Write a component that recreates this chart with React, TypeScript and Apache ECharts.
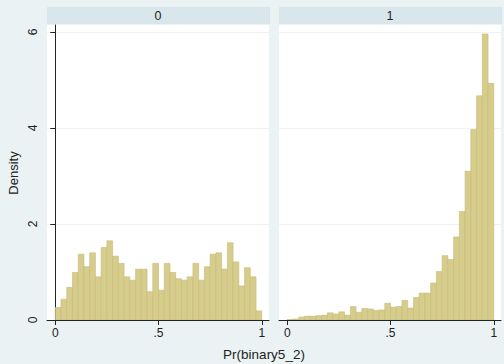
import React, { useEffect, useRef } from "react";
import * as echarts from "echarts";

const panelLabels = ["0", "1"];
const binCount = 36;
const densityPanel0 = [
  0.26, 0.43, 0.68, 0.99, 1.37, 1.11, 1.40, 0.90, 1.51, 1.65,
  1.33, 1.18, 0.90, 0.83, 1.06, 1.06, 0.59, 1.18, 0.62, 1.18,
  0.99, 0.86, 0.83, 0.90, 1.18, 0.83, 1.11, 1.37, 1.40, 1.06,
  1.61, 1.21, 0.71, 1.09, 0.90, 0.19,
];
const densityPanel1 = [
  0.01, 0.02, 0.06, 0.08, 0.08, 0.09, 0.10, 0.15, 0.125, 0.17,
  0.10, 0.28, 0.16, 0.24, 0.23, 0.20, 0.21, 0.35, 0.27, 0.28,
  0.41, 0.25, 0.47, 0.56, 0.56, 0.77, 1.01, 1.34, 1.26, 1.73,
  2.26, 3.10, 3.97, 4.67, 5.96, 4.93,
];
const xTicks = [0, 0.5, 1];
const yTicks = [0, 2, 4, 6];
const xTitle = "Pr(binary5_2)";
const yTitle = "Density";

const FONT = "Liberation Sans, Arial, sans-serif";
const BAR_FILL = "#d6cd8d";
const BAR_EDGE = "#c6bb76";

function toBins(vals: number[]) {
  return vals.map((v, i) => [i / binCount, (i + 1) / binCount, v]);
}

export default function App() {
  const ref = useRef<HTMLDivElement>(null);
  useEffect(() => {
    if (!ref.current) return;
    const chart = echarts.init(ref.current, null, { renderer: "svg" });
    const gridDefs = [
      { left: 47, top: 25, width: 222, height: 295 },
      { left: 279, top: 25, width: 222, height: 295 },
    ];
    const fmtX = (v: number) => (v === 0.5 ? ".5" : String(v));
    const xAxes = gridDefs.map((_, i) => ({
      type: "value",
      gridIndex: i,
      min: -0.04,
      max: 1.035,
      axisLine: { show: true, onZero: false, lineStyle: { color: "#222", width: 1 } },
      axisTick: { show: true, length: 5, customValues: xTicks, lineStyle: { color: "#222" } },
      axisLabel: {
        customValues: xTicks,
        formatter: fmtX,
        color: "#222",
        fontSize: 12,
        fontFamily: FONT,
        margin: 7,
      },
      splitLine: { show: false },
    }));
    const yAxes = gridDefs.map((_, i) => ({
      type: "value",
      gridIndex: i,
      min: 0,
      max: 6.146,
      axisLine: { show: i === 0, lineStyle: { color: "#222", width: 1 } },
      axisTick: { show: i === 0, length: 5, customValues: yTicks, lineStyle: { color: "#222" } },
      axisLabel: {
        show: i === 0,
        customValues: yTicks,
        rotate: 90,
        color: "#222",
        fontSize: 12,
        fontFamily: FONT,
        margin: 8,
      },
      splitLine: { show: true, lineStyle: { color: "#eef3f4", width: 1 } },
    }));
    const series = [densityPanel0, densityPanel1].map((vals, i) => ({
      type: "custom",
      xAxisIndex: i,
      yAxisIndex: i,
      data: toBins(vals),
      encode: { x: [0, 1], y: 2 },
      clip: true,
      renderItem: (_params: any, api: any) => {
        const x0 = api.value(0);
        const x1 = api.value(1);
        const y = api.value(2);
        const p0 = api.coord([x0, 0]);
        const p1 = api.coord([x1, y]);
        return {
          type: "rect",
          shape: { x: p0[0], y: p1[1], width: p1[0] - p0[0], height: p0[1] - p1[1] },
          style: { fill: BAR_FILL, stroke: BAR_EDGE, lineWidth: 0.6 },
        };
      },
    }));
    const graphics: any[] = [];
    gridDefs.forEach((g, i) => {
      graphics.push({
        type: "rect",
        shape: { x: g.left, y: 7, width: g.width + 1, height: 17 },
        style: { fill: "#d9e6ec" },
        silent: true,
      });
      graphics.push({
        type: "text",
        x: g.left + g.width / 2,
        y: 15.5,
        style: {
          text: panelLabels[i],
          fill: "#222",
          font: `12.5px ${FONT}`,
          align: "center",
          verticalAlign: "middle",
        },
      });
    });
    graphics.push({
      type: "text",
      x: 264,
      y: 354,
      style: {
        text: xTitle,
        fill: "#222",
        font: `13.5px ${FONT}`,
        align: "center",
        verticalAlign: "middle",
      },
    });
    graphics.push({
      type: "text",
      x: 13,
      y: 173,
      rotation: Math.PI / 2,
      style: {
        text: yTitle,
        fill: "#222",
        font: `13px ${FONT}`,
        align: "center",
        verticalAlign: "middle",
      },
    });
    chart.setOption({
      animation: false,
      backgroundColor: "#eaf2f3",
      grid: gridDefs.map((g) => ({
        ...g,
        show: true,
        backgroundColor: "#ffffff",
        borderWidth: 0,
        containLabel: false,
      })),
      xAxis: xAxes,
      yAxis: yAxes,
      series,
      graphic: graphics,
    });
    return () => chart.dispose();
  }, []);
  return (
    <div
      ref={ref}
      style={{ position: "fixed", left: 0, top: 0, width: 504, height: 364 }}
    />
  );
}
